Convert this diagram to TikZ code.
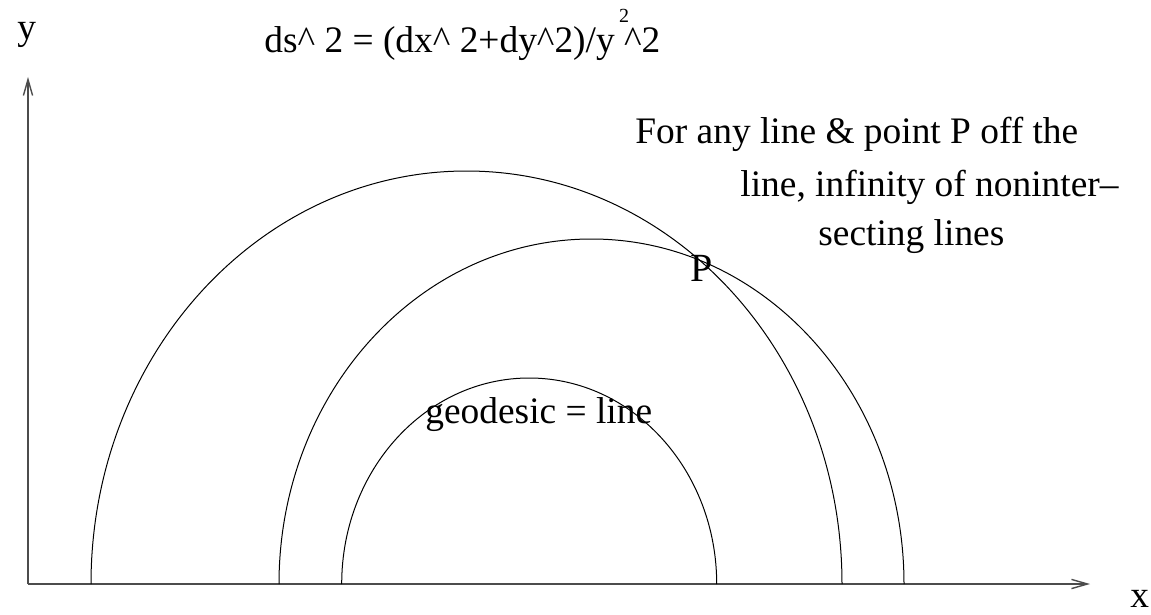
\documentclass[tikz,border=0pt]{standalone}
\usepackage{fontspec}
\setmainfont{Liberation Serif}
\usetikzlibrary{arrows.meta}

\begin{document}
\begin{tikzpicture}[
	x=0.5pt, y=-0.5pt,
	txt/.style={ anchor=base west, inner sep=0pt, font=\fontsize{18.7}{22}\selectfont },
	axis/.style={ black!70, line width=0.7pt, -{Straight Barb[length=8pt,width=4.6pt]} },
	geo/.style={ black, line width=0.5pt }
]
\useasboundingbox (0,0) rectangle (1151,615);

\coordinate (o) at (28,584);
\coordinate (xtip) at (1090,584);
\coordinate (ytip) at (28,77);
\node at (17,40) (ylab) [txt] {y};
\node at (1130,607) (xlab) [txt] {x};
\draw[axis] (o) -- (xtip);
\draw[axis] (o) -- (ytip);

\coordinate (g1) at (91,584);
\coordinate (g2) at (279,584);
\coordinate (g3) at (341.7,584);
\draw[geo] (g1) arc[start angle=180,end angle=0,x radius=187.75pt,y radius=206.5pt];
\draw[geo] (g2) arc[start angle=180,end angle=0,x radius=156.25pt,y radius=172.5pt];
\draw[geo] (g3) arc[start angle=180,end angle=0,x radius=93.75pt,y radius=103pt];

\node at (264,53) (metric) [txt] {ds\textasciicircum\ 2 = (dx\textasciicircum\ 2+dy\textasciicircum 2)/y \textasciicircum 2};
\node at (624,23) (sq) [anchor=base, inner sep=0pt, font=\fontsize{10}{12}\selectfont] {2};

\node at (635,143) (note1) [txt] {For any line \& point P off the};
\node at (740,197) (note2) [txt] {line, infinity of noninter–};
\node at (818,245) (note3) [txt] {secting lines};

\node at (690,281) (P) [txt, font=\fontsize{20}{24}\selectfont] {P};
\node at (425,423) (geod) [txt] {geodesic = line};

\end{tikzpicture}
\end{document}
